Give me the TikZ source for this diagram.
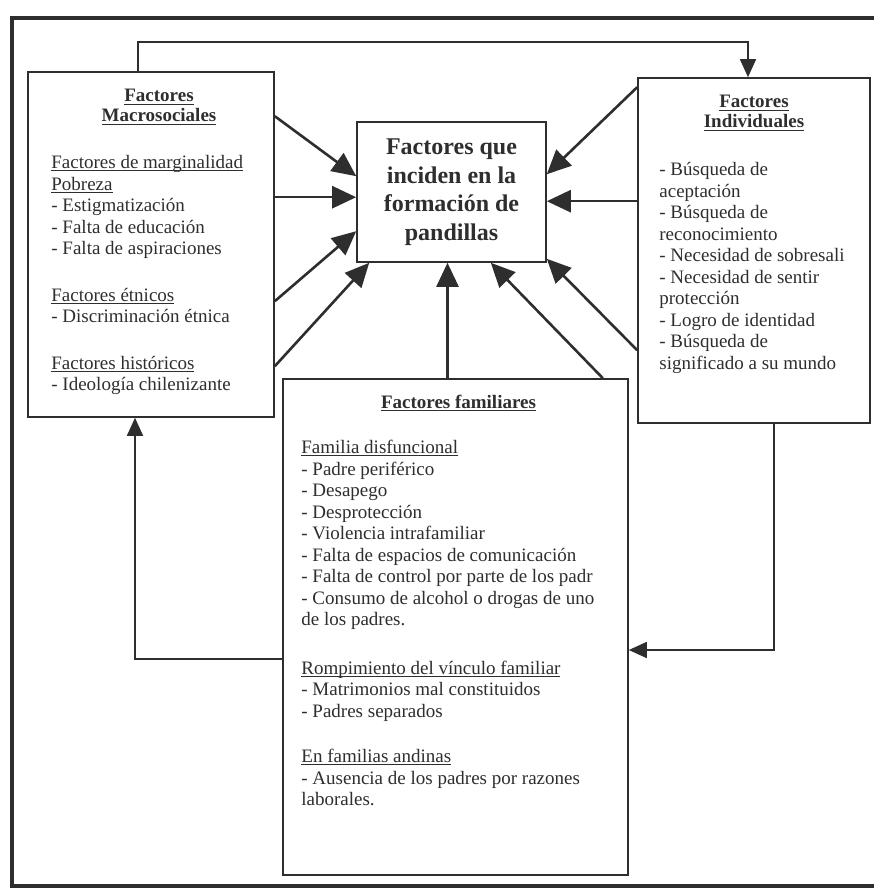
\documentclass[tikz,border=0pt]{standalone}
\usepackage{fontspec}
\setmainfont{Liberation Serif}
\usetikzlibrary{arrows.meta,positioning,calc}
\definecolor{ink}{gray}{0.18}
\newsavebox{\headbox}
\newcommand{\subhead}[1]{\sbox{\headbox}{#1}\rlap{\rule[-2.6pt]{\wd\headbox}{0.9pt}}\usebox{\headbox}}
\tikzset{
  panel/.style={draw=ink, line width=1.6pt, inner sep=0pt},
  heading/.style={inner sep=0pt, align=center, text=ink, font=\fontsize{19}{20}\selectfont\bfseries},
  body/.style={inner sep=0pt, align=left, text=ink, font=\fontsize{19}{21.5}\selectfont},
  title/.style={align=center, text=ink, font=\fontsize{24}{28.5}\selectfont\bfseries},
  push/.style={draw=ink, line width=2.6pt, -{Triangle[length=24pt,width=22pt]}},
  loop/.style={draw=ink, line width=1.6pt, -{Triangle[length=18pt,width=16pt]}},
}
\begin{document}
\begin{tikzpicture}[x=1pt,y=-1pt]
\useasboundingbox (0,0) rectangle (873,890);
% frame
\draw[ink, line width=3.5pt] (880,18) -| (12,886) -- (880,886);
% boxes
\node[panel, minimum width=246pt, minimum height=345pt] (macro) at (151,244.5) {};
\node[panel, minimum width=189pt, minimum height=140pt, title] (centre) at (451.5,192)
  {Factores que\\inciden en la\\formación de\\pandillas};
\node[panel, minimum width=232pt, minimum height=345pt] (indiv) at (754,250.5) {};
\node[panel, fill=white, minimum width=345pt, minimum height=496pt] (family) at (455.5,627) {};
% texts
\node[heading, below=18pt of macro.north, xshift=8pt] (macrohead)
  {\subhead{Factores}\\\subhead{Macrosociales}};
\node[body, below right=84pt and 24pt of macro.north west] (macrobody)
  {\subhead{Factores de marginalidad}\\
   \subhead{Pobreza}\\
   - Estigmatización\\
   - Falta de educación\\
   - Falta de aspiraciones\\[25pt]
   \subhead{Factores étnicos}\\
   - Discriminación étnica\\[25pt]
   \subhead{Factores históricos}\\
   - Ideología chilenizante};
\node[heading, below=18pt of indiv.north] (indivhead)
  {\subhead{Factores}\\\subhead{Individuales}};
\node[body, below right=85pt and 22pt of indiv.north west] (indivbody)
  {- Búsqueda de\\
   aceptación\\
   - Búsqueda de\\
   reconocimiento\\
   - Necesidad de sobresali\\
   - Necesidad de sentir\\
   protección\\
   - Logro de identidad\\
   - Búsqueda de\\
   significado a su mundo};
\node[heading, below=17pt of family.north, xshift=3pt] (familyhead)
  {\subhead{Factores familiares}};
\node[body, below right=62pt and 19pt of family.north west] (familybody)
  {\subhead{Familia disfuncional}\\
   - Padre periférico\\
   - Desapego\\
   - Desprotección\\
   - Violencia intrafamiliar\\
   - Falta de espacios de comunicación\\
   - Falta de control por parte de los padr\\
   - Consumo de alcohol o drogas de uno\\
   de los padres.\\[27pt]
   \subhead{Rompimiento del vínculo familiar}\\
   - Matrimonios mal constituidos\\
   - Padres separados\\[24pt]
   \subhead{En familias andinas}\\
   - Ausencia de los padres por razones\\
   laborales.};
% rails
\coordinate (toprail) at (0,42);
\coordinate (lowrail) at (0,650);
\coordinate (leftrail) at (0,659);
% edges
\draw[push] ([yshift=-45pt]macro.north east) -- ([yshift=-55pt]centre.north west);
\draw[push] ([yshift=-126pt]macro.north east) -- ([yshift=-76pt]centre.north west);
\draw[push] ([yshift=-230pt]macro.north east) -- ([yshift=-110pt]centre.north west);
\draw[push] ([yshift=-295pt]macro.north east) -- ([xshift=13pt]centre.south west);
\draw[push] ([xshift=-8pt]family.north) -- ([xshift=-8pt]family.north |- centre.south);
\draw[push] ([xshift=-26pt]family.north east) -- ([xshift=-56pt]centre.south east);
\draw[push] ([yshift=-10pt]indiv.north west) -- ([yshift=-53pt]centre.north east);
\draw[push] ([yshift=-124pt]indiv.north west) -- ([yshift=-80pt]centre.north east);
\draw[push] ([yshift=-273pt]indiv.north west) -- ([yshift=4pt]centre.south east);
\draw[loop] ([xshift=-13pt]macro.north) |- ([xshift=-6pt]indiv.north |- toprail) -- ([xshift=-6pt]indiv.north);
\draw[loop] ([xshift=20pt]indiv.south) |- (family.east |- lowrail);
\draw[loop] (family.west |- leftrail) -| ([xshift=-16pt]macro.south);
\end{tikzpicture}
\end{document}
